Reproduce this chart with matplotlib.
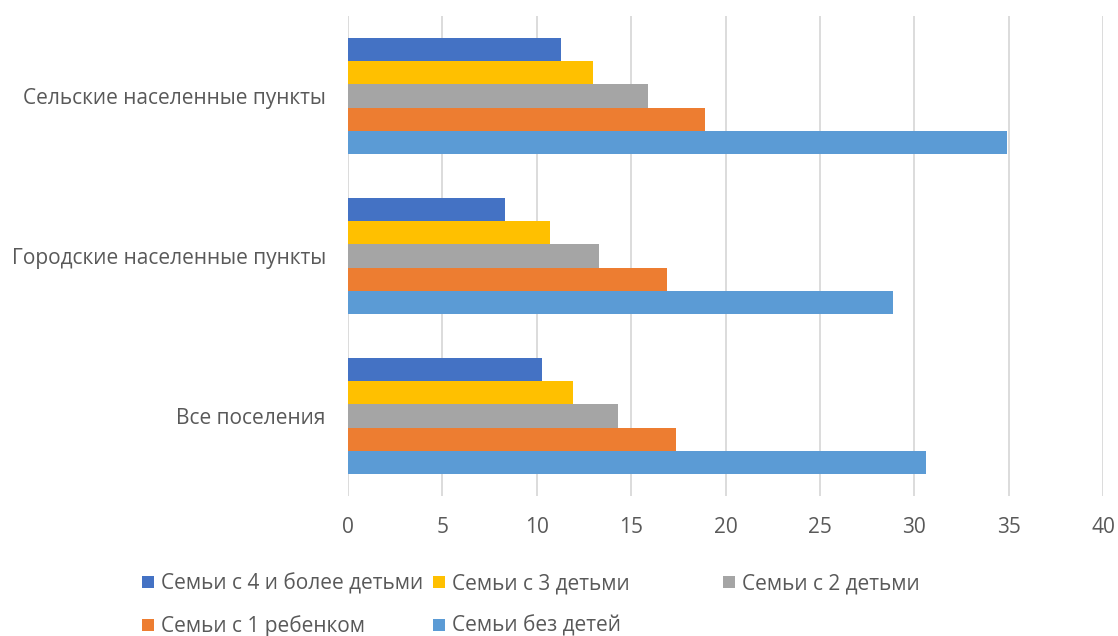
import numpy as np
import matplotlib
matplotlib.use("Agg")
import matplotlib.pyplot as plt
from matplotlib.patches import Rectangle

# ---- data (bottom-to-top category order) ----
categories = ["Все поселения", "Городские населенные пункты", "Сельские населенные пункты"]
series_names = ["Семьи с 4 и более детьми", "Семьи с 3 детьми", "Семьи с 2 детьми",
                "Семьи с 1 ребенком", "Семьи без детей"]
four_plus = [10.3, 8.3, 11.3]
three = [11.9, 10.7, 13.0]
two = [14.3, 13.3, 15.9]
one = [17.4, 16.9, 18.9]
none_ = [30.6, 28.9, 34.9]
x_ticks = [0, 5, 10, 15, 20, 25, 30, 35, 40]

COLORS = ["#4472C4", "#FFC000", "#A5A5A5", "#ED7D31", "#5B9BD5"]
TEXT = "#595959"
GRID = "#D9D9D9"
FONT = "Open Sans"
FS = 15
W, H = 1118, 636

plt.rcParams["font.family"] = [FONT, "DejaVu Sans"]

fig = plt.figure(figsize=(W / 100, H / 100), dpi=100)
ax = fig.add_axes([348 / W, 1 - 496 / H, (1103 - 348) / W, (496 - 16) / H])

series = [four_plus, three, two, one, none_]
y = np.arange(len(categories))
h = 0.146
for i, (vals, col) in enumerate(zip(series, COLORS)):
    # first series on top of the group
    offs = (2 - i) * h
    ax.barh(y + offs, vals, height=h, color=col, zorder=2)

ax.set_xlim(0, 40)
ax.set_ylim(-0.5, 2.5)
ax.set_xticks(x_ticks)
ax.set_yticks(y)
ax.set_yticklabels(categories)
ax.grid(axis="x", color=GRID, lw=1.3, zorder=0)
for s in ax.spines.values():
    s.set_visible(False)
ax.tick_params(axis="both", length=0, colors=TEXT, labelsize=FS)
ax.tick_params(axis="x", pad=15)
ax.tick_params(axis="y", pad=16)

# legend drawn by hand in rows, like the Excel original
# (marker left x, text baseline y) in pixels
slots = [(142, 589), (433, 589), (723, 589), (142, 632), (433, 632)]
for name, col, (xp, yp) in zip(series_names, COLORS, slots):
    fig.add_artist(Rectangle((xp / W, 1 - (yp - 1) / H), 12 / W, 12 / H,
                             transform=fig.transFigure, color=col, lw=0))
    fig.text((xp + 19) / W, 1 - yp / H, name, fontsize=FS, color=TEXT,
             ha="left", va="baseline")

fig.savefig("out.png", dpi=100)
